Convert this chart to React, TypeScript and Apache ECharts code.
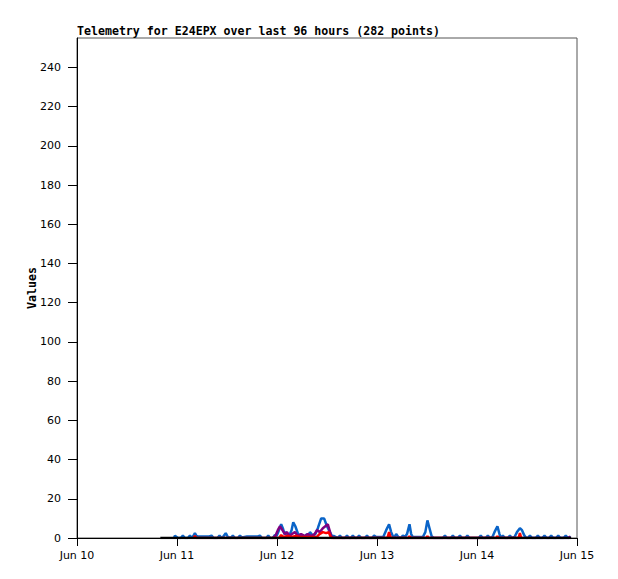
import React, { useEffect, useRef } from "react";
import * as echarts from "echarts";

// hours since Jun 10 00:00
const xTickLabels = ["Jun 10", "Jun 11", "Jun 12", "Jun 13", "Jun 14", "Jun 15"];
const yTickValues = [0, 20, 40, 60, 80, 100, 120, 140, 160, 180, 200, 220, 240];

const blueSeries: [number, number][] = [
  [23.3, 0], [23.5, 1.2], [24.2, 0], [24.9, 0], [25.4, 1.2], [25.9, 0], [26.6, 0], [27.1, 1.2], [27.6, 0],
  [27.9, 1], [28.3, 2.5], [28.7, 1], [29.0, 0.8], [31.7, 0.8], [32.3, 1.2], [32.8, 0],
  [33.7, 0], [34.2, 1.2], [34.7, 0], [35.2, 1], [35.7, 2.5], [36.2, 0.5], [36.9, 0], [37.4, 1.2], [37.9, 0],
  [38.6, 0], [39.1, 1.2], [39.6, 0.3], [40.8, 0.8], [43.4, 0.8], [43.9, 1.2], [44.4, 0],
  [45.4, 0], [45.9, 1.2], [46.4, 0], [47.0, 0], [47.5, 1.5], [47.9, 1], [48.3, 3], [49.0, 7], [49.4, 5],
  [49.8, 2], [50.2, 3], [50.7, 1], [51.1, 2], [51.5, 4], [51.9, 8], [52.4, 6], [52.9, 3], [53.2, 1],
  [53.5, 2], [53.9, 1], [54.2, 1.5], [54.7, 0.5], [55.2, 2], [55.5, 1], [55.9, 3], [56.3, 2], [56.6, 1],
  [57.2, 2], [57.8, 5], [58.6, 10], [59.3, 10], [60.0, 6], [60.7, 3], [61.2, 1], [61.7, 1], [62.6, 0],
  [63.1, 1.2], [63.6, 0], [64.3, 0], [64.8, 1.2], [65.3, 0], [65.7, 0], [66.2, 1.2], [66.7, 0],
  [67.2, 0], [67.7, 1.2], [68.2, 0], [69.1, 0], [69.6, 1.2], [70.1, 0], [70.8, 0], [71.3, 1.2], [71.8, 0.5],
  [73.5, 0.5], [74.2, 4], [74.9, 7], [75.4, 3], [75.9, 0.5], [76.2, 0.5], [76.6, 2], [77.1, 0.5],
  [77.7, 0], [78.2, 1.2], [78.7, 0.5], [79.2, 2], [79.8, 7], [80.2, 2], [80.6, 0.5], [83.0, 0.5],
  [83.6, 3], [84.1, 9], [84.6, 5], [85.1, 1], [85.6, 0], [87.8, 0], [88.3, 1.2], [88.8, 0],
  [89.7, 0], [90.2, 1.2], [90.7, 0], [91.4, 0], [91.9, 1.2], [92.4, 0], [93.2, 0], [93.7, 1.2], [94.2, 0],
  [96.4, 0], [96.9, 1.2], [97.4, 0], [98.1, 0], [98.6, 1.2], [99.1, 0], [99.7, 0.5], [100.2, 3],
  [100.9, 6], [101.4, 2], [101.7, 0], [102.2, 1.2], [102.7, 0], [103.4, 0], [103.9, 1.2], [104.4, 0],
  [105.0, 0.5], [105.6, 3], [106.3, 5], [106.8, 4], [107.3, 1.5], [107.8, 0], [108.2, 0], [108.7, 1.2], [109.2, 0],
  [110.1, 0], [110.6, 1.2], [111.1, 0], [111.7, 0], [112.2, 1.2], [112.7, 0], [113.3, 0], [113.8, 1.2], [114.3, 0],
  [115.0, 0], [115.5, 1.2], [116.0, 0], [116.8, 0], [117.3, 1.2], [117.8, 0], [118.5, 0.5],
];

const purpleSeries: [number, number][] = [
  [47.0, 0], [47.6, 1], [48.2, 4], [48.7, 6], [49.3, 4], [49.9, 2], [50.4, 3], [51.0, 1], [51.6, 2],
  [52.3, 3], [53.0, 1], [53.8, 2], [54.7, 1], [55.4, 2], [56.2, 1], [57.0, 2], [57.6, 4], [58.3, 3],
  [59.0, 5], [59.6, 6], [60.2, 7], [60.6, 4], [61.0, 1], [61.5, 0],
  [74.5, 0], [74.9, 1], [75.3, 0],
  [118.0, 0], [118.4, 0.8],
];

const redSeries: [number, number][] = [
  [28.0, 0], [28.3, 1], [28.6, 0],
  [48.5, 0], [49.0, 1.5], [49.5, 0.5], [50.5, 1], [51.5, 0.5], [52.5, 1], [53.5, 0.5],
  [57.5, 0.5], [58.2, 2], [59.0, 3], [59.8, 2.5], [60.4, 3], [61.0, 0],
  [74.5, 0], [74.9, 3], [75.3, 0],
  [79.6, 0], [79.8, 1], [80.0, 0],
  [83.9, 0], [84.1, 1], [84.3, 0],
  [100.7, 0], [100.9, 1], [101.1, 0],
  [106.0, 0], [106.3, 2.5], [106.6, 0],
];

const blackSeries: [number, number][] = [
  [20.0, 0], [118.6, 0],
];

export default function App() {
  const ref = useRef<HTMLDivElement>(null);
  useEffect(() => {
    if (!ref.current) return;
    const chart = echarts.init(ref.current, null, { renderer: "svg" });
    const tickFont = "DejaVu Sans";
    const monoFont = "DejaVu Sans Mono";
    const line = (data: [number, number][], color: string, width: number, z: number) => ({
      type: "line",
      data,
      showSymbol: false,
      symbol: "none",
      lineStyle: { color, width },
      itemStyle: { color },
      z,
    });
    chart.setOption({
      animation: false,
      backgroundColor: "#ffffff",
      title: {
        text: "Telemetry for E24EPX over last 96 hours (282 points)",
        left: 77,
        top: 25,
        padding: 0,
        textStyle: { fontFamily: monoFont, fontWeight: "bold", fontSize: 11.6, color: "#000" },
      },
      grid: {
        left: 77,
        top: 38,
        width: 500,
        height: 500,
        show: true,
        borderColor: "#555",
        borderWidth: 1,
        backgroundColor: "transparent",
      },
      xAxis: {
        type: "value",
        min: 0,
        max: 120,
        interval: 24,
        axisLine: { show: true, lineStyle: { color: "#000", width: 1 } },
        axisTick: { show: true, length: 8, lineStyle: { color: "#000" } },
        splitLine: { show: false },
        axisLabel: {
          margin: 12,
          fontFamily: tickFont,
          fontSize: 11,
          color: "#000",
          formatter: (v: number) => xTickLabels[Math.round(v / 24)] ?? "",
        },
      },
      yAxis: {
        type: "value",
        min: 0,
        max: 255,
        name: "Values",
        nameLocation: "middle",
        nameGap: 39,
        nameMoveOverlap: false,
        nameTextStyle: { fontFamily: monoFont, fontWeight: "bold", fontSize: 11.6, color: "#000" },
        axisLine: { show: true, lineStyle: { color: "#000", width: 1 } },
        axisTick: { show: true, length: 9, lineStyle: { color: "#000" }, customValues: yTickValues },
        splitLine: { show: false },
        axisLabel: {
          margin: 16,
          fontFamily: tickFont,
          fontSize: 11,
          color: "#000",
          customValues: yTickValues,
        },
      },
      series: [
        line(blueSeries, "#0a64c8", 2.5, 2),
        line(purpleSeries, "#800080", 2.5, 3),
        line(redSeries, "#ff0000", 2.5, 4),
        line(blackSeries, "#000000", 2.5, 5),
      ],
    });
    return () => chart.dispose();
  }, []);
  return (
    <div
      ref={ref}
      style={{ position: "fixed", left: 0, top: 0, width: 618, height: 579, background: "#fff" }}
    />
  );
}
